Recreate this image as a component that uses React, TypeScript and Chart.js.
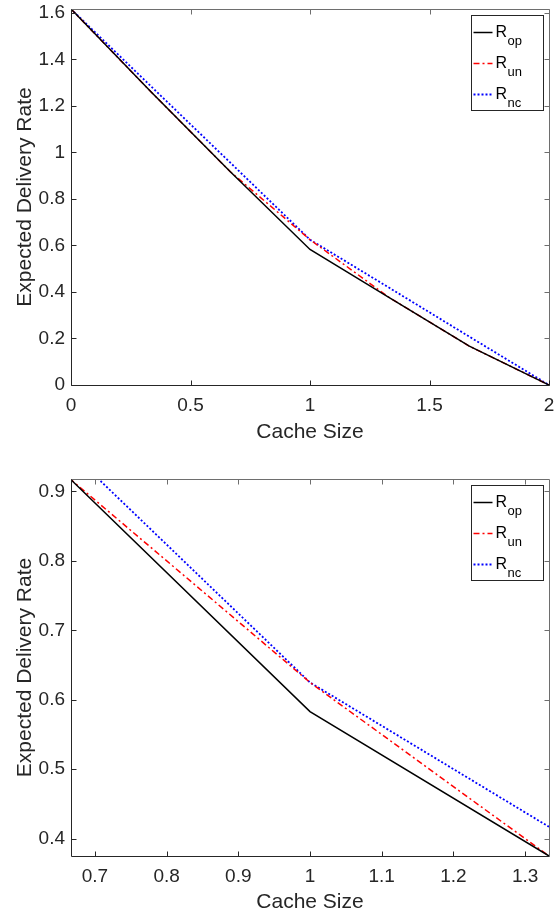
import { useEffect, useRef } from "react";
import { Chart, registerables } from "chart.js";

Chart.register(...registerables);

// ---------- data ----------
const cacheSize = [0, 1 / 3, 2 / 3, 1, 4 / 3, 5 / 3, 2];
const rOp = [1.617, 1.262, 0.917, 0.583, 0.375, 0.167, 0];
const rUn = [1.617, 1.262, 0.917, 0.625, 0.375, 0.167, 0];
const rNc = [1.617, 1.286, 0.956, 0.625, 0.417, 0.208, 0];
const seriesBase = ["R", "R", "R"];
const seriesSub = ["op", "un", "nc"];

const topXTicks = [0, 0.5, 1, 1.5, 2];
const topYTicks = [0, 0.2, 0.4, 0.6, 0.8, 1, 1.2, 1.4, 1.6];
const zoomXTicks = [0.7, 0.8, 0.9, 1, 1.1, 1.2, 1.3];
const zoomYTicks = [0.4, 0.5, 0.6, 0.7, 0.8, 0.9];

const topRange = [0, 2, 0, 1.617];
const zoomRange = [2 / 3, 4 / 3, 0.375, 0.918];

const xTitle = "Cache Size";
const yTitle = "Expected Delivery Rate";

// ---------- styling ----------
const FONT = "'Liberation Sans', Arial, Helvetica, sans-serif";
const AXIS = "#262626";
const BOX = "#6e6e6e";
const lineColors = ["#000000", "#ff0000", "#0000ff"];
const lineDashes: number[][] = [[], [6, 3, 2, 3], [2, 2]];
const lineWidths = [1.5, 1.5, 1.8];

function makePlugin() {
  return {
    id: "matlabFrame",
    afterDraw(chart: any) {
      const { ctx, chartArea: a, scales } = chart;
      const xs = scales.x;
      const ys = scales.y;
      const L = Math.round(a.left) + 0.5;
      const R = Math.round(a.right) + 0.5;
      const T = Math.round(a.top) + 0.5;
      const B = Math.round(a.bottom) + 0.5;
      const tl = 5;
      ctx.save();
      ctx.lineWidth = 1;
      // top / right box + ticks
      ctx.strokeStyle = BOX;
      ctx.beginPath();
      ctx.moveTo(L, T);
      ctx.lineTo(R, T);
      ctx.lineTo(R, B);
      xs.ticks.forEach((t: any) => {
        const px = Math.round(xs.getPixelForValue(t.value)) + 0.5;
        ctx.moveTo(px, T);
        ctx.lineTo(px, T + tl);
      });
      ys.ticks.forEach((t: any) => {
        const py = Math.round(ys.getPixelForValue(t.value)) + 0.5;
        ctx.moveTo(R, py);
        ctx.lineTo(R - tl, py);
      });
      ctx.stroke();
      // left / bottom axes + ticks
      ctx.strokeStyle = AXIS;
      ctx.beginPath();
      ctx.moveTo(L, T);
      ctx.lineTo(L, B);
      ctx.lineTo(R, B);
      xs.ticks.forEach((t: any) => {
        const px = Math.round(xs.getPixelForValue(t.value)) + 0.5;
        ctx.moveTo(px, B);
        ctx.lineTo(px, B - tl);
      });
      ys.ticks.forEach((t: any) => {
        const py = Math.round(ys.getPixelForValue(t.value)) + 0.5;
        ctx.moveTo(L, py);
        ctx.lineTo(L + tl, py);
      });
      ctx.stroke();

      // legend
      const lw = 72;
      const lh = 95;
      const lx = Math.round(a.right) - 6 - lw + 0.5;
      const ly = Math.round(a.top) + 6 + 0.5;
      ctx.fillStyle = "#ffffff";
      ctx.fillRect(lx, ly, lw, lh);
      ctx.strokeStyle = AXIS;
      ctx.strokeRect(lx, ly, lw, lh);
      chart.data.datasets.forEach((ds: any, i: number) => {
        const y = ly + 17 + i * 31;
        ctx.save();
        ctx.strokeStyle = ds.borderColor;
        ctx.lineWidth = ds.borderWidth;
        ctx.setLineDash(ds.borderDash || []);
        ctx.beginPath();
        ctx.moveTo(lx + 2, y);
        ctx.lineTo(lx + 21, y);
        ctx.stroke();
        ctx.restore();
        ctx.fillStyle = "#000000";
        ctx.textBaseline = "alphabetic";
        ctx.textAlign = "left";
        ctx.font = `16px ${FONT}`;
        const base = seriesBase[i];
        ctx.fillText(base, lx + 24, y + 4);
        const w = ctx.measureText(base).width;
        ctx.font = `13px ${FONT}`;
        ctx.fillText(seriesSub[i], lx + 24 + w + 0.5, y + 12);
      });
      ctx.restore();
    },
  };
}

function makeConfig(
  range: number[],
  xTicks: number[],
  yTicks: number[],
  pad: { left: number; right: number; top: number; bottom: number },
  yAxisW: number,
  xAxisH: number
): any {
  const datasets = [rOp, rUn, rNc].map((vals, i) => ({
    label: seriesBase[i] + seriesSub[i],
    data: cacheSize.map((c, j) => ({ x: c, y: vals[j] })),
    borderColor: lineColors[i],
    backgroundColor: lineColors[i],
    borderWidth: lineWidths[i],
    borderDash: lineDashes[i],
    pointRadius: 0,
    fill: false,
    tension: 0,
  }));
  return {
    type: "line",
    data: { datasets },
    plugins: [makePlugin()],
    options: {
      animation: false,
      responsive: false,
      devicePixelRatio: 1,
      layout: { padding: pad },
      plugins: { legend: { display: false }, tooltip: { enabled: false } },
      scales: {
        x: {
          type: "linear",
          min: range[0],
          max: range[1],
          grid: { display: false, drawTicks: false },
          border: { display: false },
          afterBuildTicks: (s: any) => {
            s.ticks = xTicks.map((v) => ({ value: v }));
          },
          afterFit: (s: any) => {
            s.height = xAxisH;
            s.paddingLeft = 0;
            s.paddingRight = 0;
          },
          ticks: {
            color: AXIS,
            font: { family: FONT, size: 19 },
            padding: 9,
            maxRotation: 0,
            autoSkip: false,
            callback: (v: any) => String(v),
          },
          title: {
            display: true,
            text: xTitle,
            color: AXIS,
            font: { family: FONT, size: 21 },
            padding: { top: 0, bottom: -2 },
          },
        },
        y: {
          type: "linear",
          min: range[2],
          max: range[3],
          grid: { display: false, drawTicks: false },
          border: { display: false },
          afterBuildTicks: (s: any) => {
            s.ticks = yTicks.map((v) => ({ value: v }));
          },
          afterFit: (s: any) => {
            s.width = yAxisW;
            s.paddingTop = 0;
            s.paddingBottom = 0;
          },
          ticks: {
            color: AXIS,
            font: { family: FONT, size: 19 },
            padding: 6,
            autoSkip: false,
            callback: (v: any) => String(v),
          },
          title: {
            display: true,
            text: yTitle,
            color: AXIS,
            font: { family: FONT, size: 21 },
            padding: { top: 1.5, bottom: 0 },
          },
        },
      },
    },
  };
}

export default function App() {
  const topRef = useRef<HTMLCanvasElement>(null);
  const botRef = useRef<HTMLCanvasElement>(null);

  useEffect(() => {
    const c1 = new Chart(
      topRef.current as HTMLCanvasElement,
      makeConfig(topRange, topXTicks, topYTicks, { left: 11, right: 10, top: 9, bottom: 13 }, 60, 58)
    );
    const c2 = new Chart(
      botRef.current as HTMLCanvasElement,
      makeConfig(zoomRange, zoomXTicks, zoomYTicks, { left: 11, right: 10, top: 23, bottom: 0 }, 60, 57)
    );
    return () => {
      c1.destroy();
      c2.destroy();
    };
  }, []);

  return (
    <div
      style={{
        position: "absolute",
        left: 0,
        top: 0,
        width: 559,
        height: 913,
        background: "#ffffff",
      }}
    >
      <canvas
        ref={topRef}
        width={559}
        height={456}
        style={{ position: "absolute", left: 0, top: 0, width: 559, height: 456 }}
      />
      <canvas
        ref={botRef}
        width={559}
        height={457}
        style={{ position: "absolute", left: 0, top: 456, width: 559, height: 457 }}
      />
    </div>
  );
}
